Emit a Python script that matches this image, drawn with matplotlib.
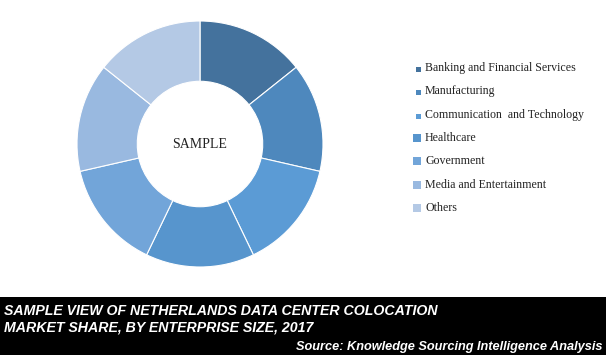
import matplotlib.pyplot as plt
from matplotlib import font_manager
from matplotlib.patches import Rectangle

# segments of the donut (clockwise from 12 o'clock)
categories = ['Banking and Financial Services', 'Manufacturing',
              'Communication  and Technology', 'Healthcare', 'Government',
              'Media and Entertainment', 'Others']
shares = [14.3, 14.3, 14.3, 14.3, 14.3, 14.3, 14.3]
colors = ['#44729D', '#4E88BD', '#5B9BD5', '#5795CD', '#72A5D9', '#99B9E0', '#B4C9E5']
title_lines = ['SAMPLE VIEW OF NETHERLANDS DATA CENTER COLOCATION',
               'MARKET SHARE, BY ENTERPRISE SIZE, 2017']
source = 'Source: Knowledge Sourcing Intelligence Analysis'

names = sorted({f.name for f in font_manager.fontManager.ttflist})
narrow = 'Liberation Sans Narrow' in names
print(narrow)
banner_font = 'Liberation Sans Narrow' if narrow else 'Liberation Sans'

W, H = 606, 355
fig = plt.figure(figsize=(W / 100, H / 100), dpi=100)

# donut: centre (200, 144), radius 123 px
r = 123
cx, cy = 200, 144
ax = fig.add_axes([(cx - r) / W, 1 - (cy + r) / H, 2 * r / W, 2 * r / H])
ax.pie(shares, colors=colors, startangle=90, counterclock=False,
       wedgeprops=dict(width=0.49, edgecolor='white', linewidth=0.8))
ax.set_xlim(-1, 1)
ax.set_ylim(-1, 1)
ax.set_aspect('equal')
ax.text(0, 0, 'SAMPLE', ha='center', va='center', fontsize=10,
        family='Liberation Serif', color='#222222')

# legend drawn by hand in figure pixels
lax = fig.add_axes([0, 0, 1, 1])
lax.set_xlim(0, W)
lax.set_ylim(H, 0)
lax.axis('off')
y0, dy = 68, 23.3
for i, (name, col) in enumerate(zip(categories, colors)):
    y = y0 + i * dy
    s = 5 if i < 3 else 8
    lax.add_patch(Rectangle((421 - s, y + 4 - s), s, s, color=col, lw=0))
    lax.text(425, y, name, ha='left', va='center', fontsize=8.6,
             family='Liberation Serif', color='#222222')

# bottom banner
lax.add_patch(Rectangle((0, 297), W, H - 297, color='black', lw=0))
for i, line in enumerate(title_lines):
    lax.text(4, 311 + i * 16, line, ha='left', va='center',
             fontsize=12.5 if narrow else 10.2,
             family=banner_font, weight='bold', style='italic', color='white')
lax.text(603, 347, source, ha='right', va='center',
         fontsize=10.5 if narrow else 9.2,
         family=banner_font, weight='bold', style='italic', color='white')

fig.savefig('out.png', dpi=100)
